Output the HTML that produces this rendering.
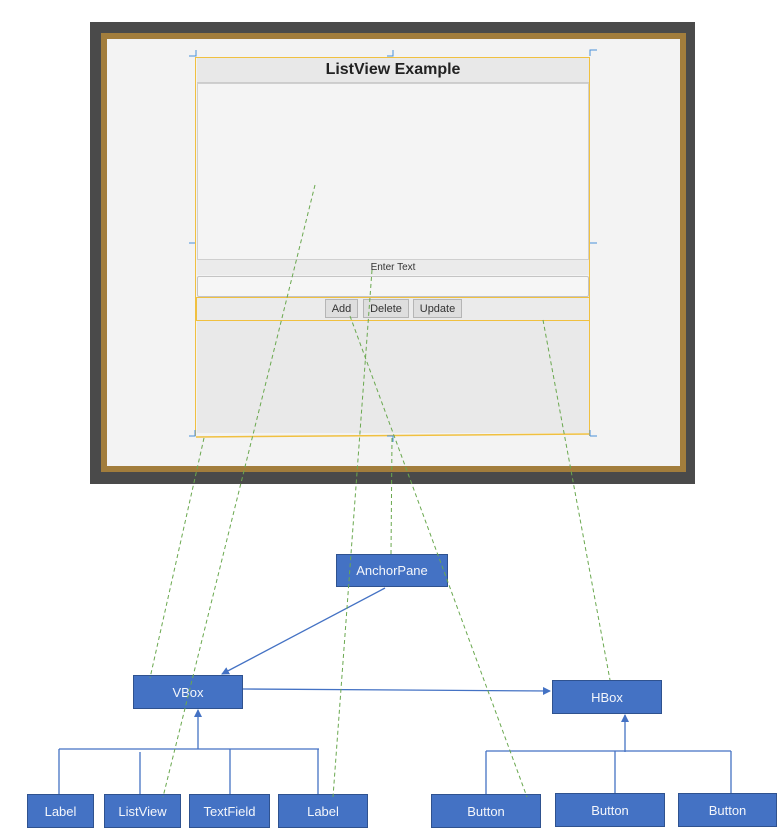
<!DOCTYPE html>
<html><head><style>
body{margin:0;width:784px;height:835px;background:#fff;position:relative;overflow:hidden;font-family:"Liberation Sans",sans-serif}
.a{position:absolute}
.n{position:absolute;background:#4472c4;border:1px solid #2f528f;color:#f4f6fb;font-size:13px;display:flex;align-items:center;justify-content:center;box-sizing:border-box}
.btn{position:absolute;top:299px;height:19px;background:#dedede;border:1px solid #b5b5b5;box-sizing:border-box;font-size:11px;color:#333;display:flex;align-items:center;justify-content:center}
</style></head><body>
<div class="a" style="left:90px;top:22px;width:605px;height:462px;background:#4a4a4a"></div>
<div class="a" style="left:101px;top:33px;width:585px;height:439px;background:#a27d3c"></div>
<div class="a" style="left:107px;top:39px;width:573px;height:427px;background:#f3f3f3"></div>
<div class="a" style="left:197px;top:58px;width:392px;height:24px;background:#e8e8e8;border-bottom:1px solid #ccc;text-align:center;font-weight:bold;font-size:16px;line-height:24px;color:#222">ListView Example</div>
<div class="a" style="left:197px;top:83px;width:392px;height:177px;background:#f4f4f4;border:1px solid #cfcfcf;box-sizing:border-box"></div>
<div class="a" style="left:197px;top:260px;width:392px;height:15px;background:#ebebeb;text-align:center;font-size:10px;line-height:16px;color:#333">Enter Text</div>
<div class="a" style="left:197px;top:276px;width:392px;height:21px;background:#f6f6f6;border:1px solid #c4c4c4;border-radius:2px;box-sizing:border-box"></div>
<div class="a" style="left:196px;top:297px;width:394px;height:24px;background:#ebebeb;border:1px solid #f0c040;box-sizing:border-box"></div>
<div class="btn" style="left:325px;width:33px">Add</div>
<div class="btn" style="left:363px;width:46px">Delete</div>
<div class="btn" style="left:413px;width:49px">Update</div>
<div class="a" style="left:197px;top:321px;width:392px;height:112px;background:#e9e9e9"></div>
<div class="a" style="left:195px;top:57px;width:395px;height:379px;border:1px solid #f0c040;border-bottom:none;box-sizing:border-box"></div>
<div class="n" style="left:336px;top:554px;width:112px;height:33px">AnchorPane</div>
<div class="n" style="left:133px;top:675px;width:110px;height:34px">VBox</div>
<div class="n" style="left:552px;top:680px;width:110px;height:34px">HBox</div>
<div class="n" style="left:27px;top:794px;width:67px;height:34px">Label</div>
<div class="n" style="left:104px;top:794px;width:77px;height:34px">ListView</div>
<div class="n" style="left:189px;top:794px;width:81px;height:34px">TextField</div>
<div class="n" style="left:278px;top:794px;width:90px;height:34px">Label</div>
<div class="n" style="left:431px;top:794px;width:110px;height:34px">Button</div>
<div class="n" style="left:555px;top:793px;width:110px;height:34px">Button</div>
<div class="n" style="left:678px;top:793px;width:99px;height:34px">Button</div>
<svg class="a" style="left:0;top:0" width="784" height="835">
<defs><marker id="ar" markerWidth="8" markerHeight="8" refX="7" refY="4" orient="auto" markerUnits="userSpaceOnUse"><path d="M0,0L8,4L0,8z" fill="#4472c4"/></marker></defs>
<line x1="196" y1="437" x2="590" y2="434" stroke="#f0c040" stroke-width="1.5"/>
<g stroke="#4a90d9" stroke-width="1" fill="none">
<path d="M189,56h7v-6M387,56h6v-6M590,56v-6h7M189,243h6M590,243h7M189,436h6v-6M387,436h6v6M590,436h7M590,436v-6"/>
</g>
<g stroke="#4472c4" stroke-width="1.3" fill="none">
<line x1="385" y1="588" x2="222" y2="674" marker-end="url(#ar)"/>
<line x1="243" y1="689" x2="550" y2="691" marker-end="url(#ar)"/>
<line x1="198" y1="749" x2="198" y2="710" marker-end="url(#ar)"/>
<path d="M59,749H319M59,749v45M140,752v42M230,749v45M318,749v45"/>
<line x1="625" y1="752" x2="625" y2="715" marker-end="url(#ar)"/>
<path d="M486,751H731M486,751v43M615,751v42M731,751v42"/>
</g>
<g stroke="#6aa84f" stroke-width="1" stroke-dasharray="4,3" fill="none">
<line x1="204" y1="438" x2="150" y2="678"/>
<line x1="315" y1="185" x2="163" y2="797"/>
<line x1="372" y1="270" x2="333" y2="797"/>
<line x1="350" y1="316" x2="527" y2="797"/>
<line x1="392" y1="438" x2="391" y2="554"/>
<line x1="543" y1="320" x2="610" y2="680"/>
</g>
</svg>
</body></html>
